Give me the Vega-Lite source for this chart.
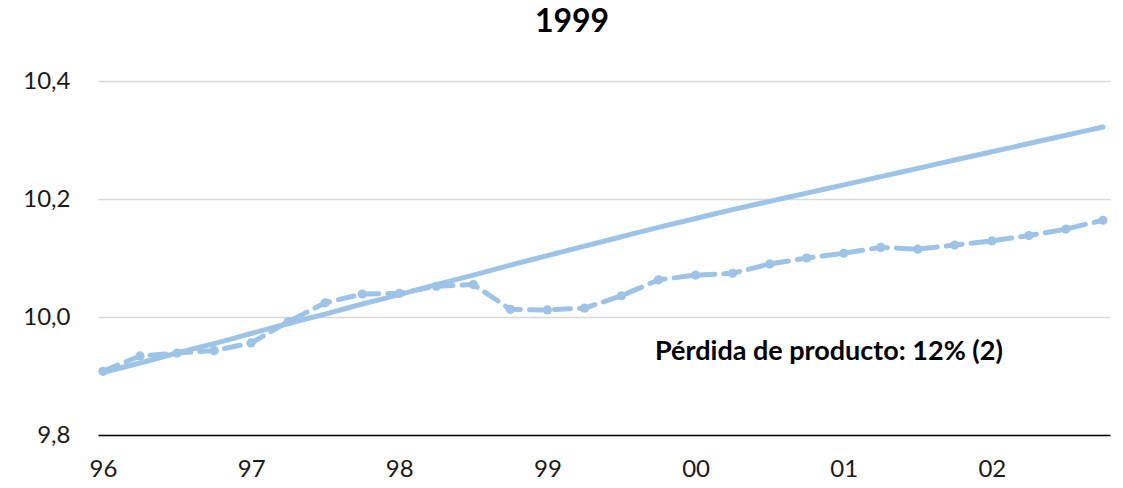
{
  "$schema": "https://vega.github.io/schema/vega-lite/v6.json",
  "width": 1012,
  "height": 354,
  "autosize": {"type": "none"},
  "padding": {"left": 98, "top": 81, "right": 13, "bottom": 53},
  "background": "white",
  "title": {"text": "1999", "font": "Lato", "fontSize": 32, "fontWeight": "bold", "color": "#000000", "anchor": "middle", "baseline": "alphabetic", "offset": 5, "dx": -32},
  "config": {
    "view": {"stroke": null},
    "font": "Lato",
    "axisX": {"labelFont": "Lato", "labelFontSize": 24, "labelColor": "#1a1a1a", "labelPadding": 22, "ticks": false, "grid": false, "domainColor": "#000000", "domainWidth": 1.5, "title": null},
    "axisY": {"labelFont": "Lato", "labelFontSize": 24, "labelColor": "#1a1a1a", "labelPadding": 28, "ticks": false, "domain": false, "grid": true, "gridColor": "#d9d9d9", "gridWidth": 1.5, "title": null}
  },
  "data": {
    "values": [
      {"q": 0, "actual": 9.908, "trend": 9.906},
      {"q": 1, "actual": 9.934, "trend": 9.922},
      {"q": 2, "actual": 9.939, "trend": 9.939},
      {"q": 3, "actual": 9.943, "trend": 9.955},
      {"q": 4, "actual": 9.956, "trend": 9.972},
      {"q": 5, "actual": 9.992, "trend": 9.989},
      {"q": 6, "actual": 10.024, "trend": 10.005},
      {"q": 7, "actual": 10.039, "trend": 10.022},
      {"q": 8, "actual": 10.040, "trend": 10.038},
      {"q": 9, "actual": 10.052, "trend": 10.055},
      {"q": 10, "actual": 10.055, "trend": 10.071},
      {"q": 11, "actual": 10.013, "trend": 10.088},
      {"q": 12, "actual": 10.012, "trend": 10.104},
      {"q": 13, "actual": 10.015, "trend": 10.120},
      {"q": 14, "actual": 10.036, "trend": 10.136},
      {"q": 15, "actual": 10.063, "trend": 10.152},
      {"q": 16, "actual": 10.071, "trend": 10.167},
      {"q": 17, "actual": 10.074, "trend": 10.182},
      {"q": 18, "actual": 10.090, "trend": 10.196},
      {"q": 19, "actual": 10.100, "trend": 10.210},
      {"q": 20, "actual": 10.108, "trend": 10.224},
      {"q": 21, "actual": 10.118, "trend": 10.238},
      {"q": 22, "actual": 10.115, "trend": 10.252},
      {"q": 23, "actual": 10.122, "trend": 10.266},
      {"q": 24, "actual": 10.129, "trend": 10.280},
      {"q": 25, "actual": 10.138, "trend": 10.294},
      {"q": 26, "actual": 10.149, "trend": 10.308},
      {"q": 27, "actual": 10.164, "trend": 10.322}
    ]
  },
  "encoding": {
    "x": {
      "field": "q", "type": "quantitative",
      "scale": {"domain": [-0.135, 27.19], "nice": false, "zero": false},
      "axis": {"values": [0, 4, 8, 12, 16, 20, 24], "labelExpr": "['96','97','98','99','00','01','02'][round(datum.value/4)]"}
    }
  },
  "layer": [
    {
      "mark": {"type": "line", "color": "#9DC3E6", "strokeWidth": 5, "strokeCap": "round", "interpolate": "monotone", "clip": true},
      "encoding": {"y": {"field": "trend", "type": "quantitative", "scale": {"domain": [9.8, 10.4], "nice": false, "zero": false}, "axis": {"values": [9.8, 10.0, 10.2, 10.4], "labelExpr": "replace(format(datum.value, '.1f'), '.', ',')"}}}
    },
    {
      "mark": {"type": "line", "color": "#9DC3E6", "strokeWidth": 5, "strokeCap": "round", "strokeDash": [16, 9], "point": {"filled": true, "size": 85, "color": "#9DC3E6"}},
      "encoding": {"y": {"field": "actual", "type": "quantitative", "scale": {"domain": [9.8, 10.4], "nice": false, "zero": false}, "axis": {"values": [9.8, 10.0, 10.2, 10.4], "labelExpr": "replace(format(datum.value, '.1f'), '.', ',')"}}}
    },
    {
      "data": {"values": [{"q": 19.6, "actual": 9.94, "label": "Pérdida de producto: 12% (2)"}]},
      "mark": {"type": "text", "font": "Lato", "fontSize": 27, "fontWeight": "bold", "color": "#000000", "align": "center", "baseline": "middle"},
      "encoding": {
        "y": {"field": "actual", "type": "quantitative", "scale": {"domain": [9.8, 10.4], "nice": false, "zero": false}, "axis": {"values": [9.8, 10.0, 10.2, 10.4], "labelExpr": "replace(format(datum.value, '.1f'), '.', ',')"}},
        "text": {"field": "label", "type": "nominal"}
      }
    }
  ]
}
